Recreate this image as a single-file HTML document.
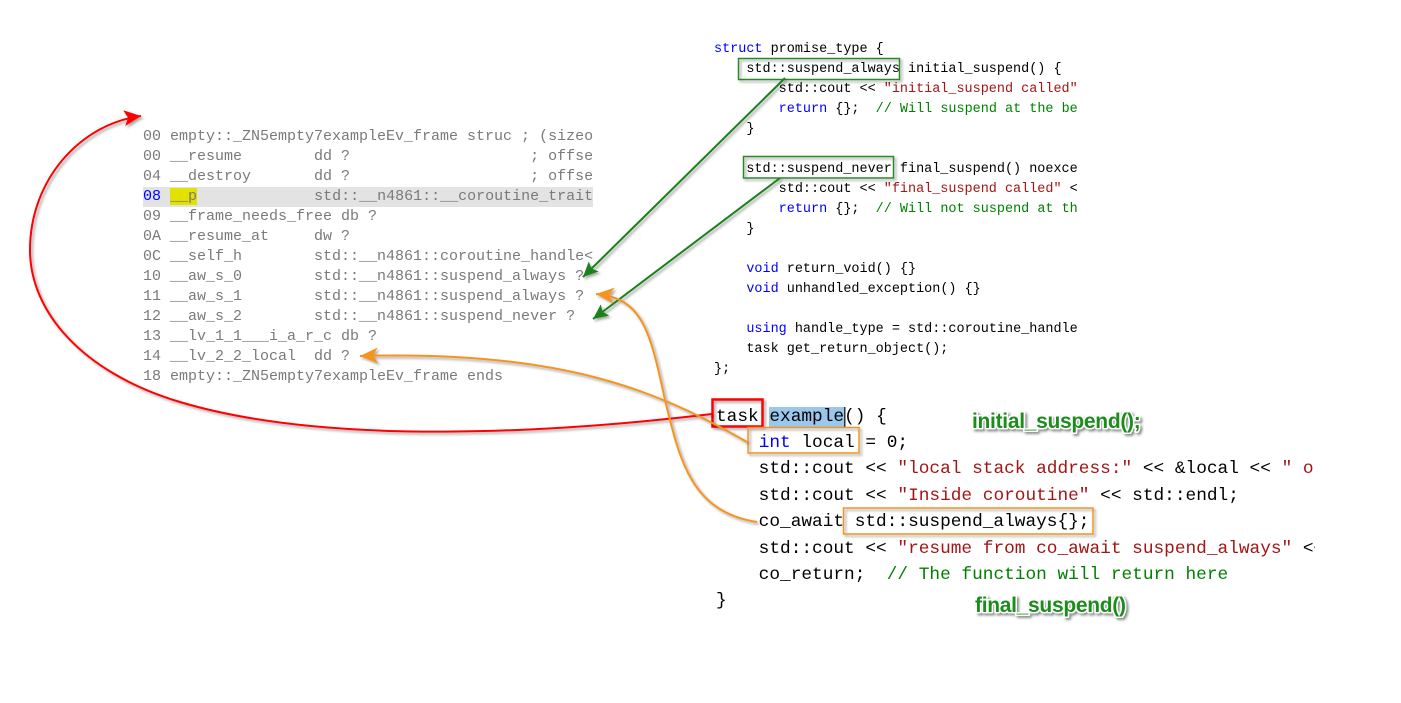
<!DOCTYPE html>
<html>
<head>
<meta charset="utf-8">
<style>
  html,body{margin:0;padding:0;background:#fff;}
  body{width:1401px;height:703px;position:relative;overflow:hidden;}
  .blk{position:absolute;white-space:pre;overflow:hidden;}
  #left{left:143px;top:127px;width:450px;font-family:"Liberation Mono",monospace;font-size:15px;line-height:20px;color:#7a7a7a;}
  #left .row{height:20px;}
  #left .hl{background:#e3e3e3;}
  #left .num{color:#0000ff;}
  #left .yl{background:#e2e200;}
  #top{left:714px;top:40px;width:364px;font-family:"Liberation Mono",monospace;font-size:13.47px;line-height:20px;color:#000;}
  #bot{left:716px;top:403.5px;width:599px;font-family:"Liberation Mono",monospace;font-size:17.8px;line-height:26.4px;color:#000;}
  .k{color:#0000ff;}
  .s{color:#a31515;}
  .c{color:#008000;}
  .sel{background:#99c8ec;box-shadow:1.5px 0 0 #333;}
  svg{position:absolute;left:0;top:0;}
</style>
</head>
<body>

<div class="blk" id="left"><div class="row">00 empty::_ZN5empty7exampleEv_frame struc ; (sizeof=0x18)</div><div class="row">00 __resume        dd ?                    ; offset</div><div class="row">04 __destroy       dd ?                    ; offset</div><div class="row hl"><span class="num">08</span> <span class="yl">__p</span>             std::__n4861::__coroutine_traits_impl</div><div class="row">09 __frame_needs_free db ?</div><div class="row">0A __resume_at     dw ?</div><div class="row">0C __self_h        std::__n4861::coroutine_handle&lt;</div><div class="row">10 __aw_s_0        std::__n4861::suspend_always ?</div><div class="row">11 __aw_s_1        std::__n4861::suspend_always ?</div><div class="row">12 __aw_s_2        std::__n4861::suspend_never ?</div><div class="row">13 __lv_1_1___i_a_r_c db ?</div><div class="row">14 __lv_2_2_local  dd ?</div><div class="row">18 empty::_ZN5empty7exampleEv_frame ends</div></div>

<div class="blk" id="top"><span class="k">struct</span> promise_type {
    std::suspend_always initial_suspend() {
        std::cout &lt;&lt; <span class="s">"initial_suspend called"</span> &lt;&lt; std::endl;
        <span class="k">return</span> {};  <span class="c">// Will suspend at the beginning</span>
    }

    std::suspend_never final_suspend() noexcept {
        std::cout &lt;&lt; <span class="s">"final_suspend called"</span> &lt;&lt; std::endl;
        <span class="k">return</span> {};  <span class="c">// Will not suspend at the end</span>
    }

    <span class="k">void</span> return_void() {}
    <span class="k">void</span> unhandled_exception() {}

    <span class="k">using</span> handle_type = std::coroutine_handle&lt;promise_type&gt;;
    task get_return_object();
};</div>

<div class="blk" id="bot">task <span class="sel">example</span>() {
    <span class="k">int</span> local = 0;
    std::cout &lt;&lt; <span class="s">"local stack address:"</span> &lt;&lt; &amp;local &lt;&lt; <span class="s">" on stack"</span> &lt;&lt; std::endl;
    std::cout &lt;&lt; <span class="s">"Inside coroutine"</span> &lt;&lt; std::endl;
    co_await std::suspend_always{};
    std::cout &lt;&lt; <span class="s">"resume from co_await suspend_always"</span> &lt;&lt; std::endl;
    co_return;  <span class="c">// The function will return here</span>
}</div>

<svg width="1401" height="703" viewBox="0 0 1401 703" xmlns="http://www.w3.org/2000/svg">
  <defs>
    <filter id="sh" x="-20%" y="-20%" width="140%" height="140%">
      <feDropShadow dx="2" dy="2" stdDeviation="1.4" flood-color="#000" flood-opacity="0.35"/>
    </filter>
    <filter id="sh2" x="-20%" y="-40%" width="140%" height="180%">
      <feDropShadow dx="2" dy="2" stdDeviation="1.2" flood-color="#000" flood-opacity="0.45"/>
    </filter>
    <marker id="mr" markerUnits="userSpaceOnUse" markerWidth="24" markerHeight="20" refX="18" refY="8" orient="auto">
      <path d="M18,8 L1,0 L5,8 L1,16 Z" fill="#ff0000"/>
    </marker>
    <marker id="mo" markerUnits="userSpaceOnUse" markerWidth="24" markerHeight="20" refX="18" refY="8" orient="auto">
      <path d="M18,8 L0,0 L5,8 L0,16 Z" fill="#f7931e"/>
    </marker>
    <marker id="mg" markerUnits="userSpaceOnUse" markerWidth="20" markerHeight="16" refX="15" refY="7" orient="auto">
      <path d="M15,7 L0,0 L3,7 L0,14 Z" fill="#1a801a"/>
    </marker>
  </defs>

  <g filter="url(#sh)" fill="none">
    <rect x="738.5" y="58.5" width="161" height="21" stroke="#2a8a2a" stroke-width="1.5"/>
    <rect x="743.5" y="156.5" width="150" height="21.5" stroke="#2a8a2a" stroke-width="1.5"/>
    <rect x="712.5" y="399.5" width="50" height="27" stroke="#ff0000" stroke-width="2.5"/>
    <rect x="748" y="427.5" width="111" height="25.5" stroke="#f7931e" stroke-width="1.5"/>
    <rect x="843.5" y="508" width="249.5" height="26" stroke="#f7931e" stroke-width="1.5"/>
  </g>

  <g filter="url(#sh)" fill="none">
    <path d="M785,78 L583,277" stroke="#1a801a" stroke-width="2" marker-end="url(#mg)"/>
    <path d="M780,178 L593,319" stroke="#1a801a" stroke-width="2" marker-end="url(#mg)"/>
    <path d="M712,414 C560,432 330,447 180,402 C80,372 30,310 30,250 C30,180 80,124 141,116" stroke="#ff0000" stroke-width="2" marker-end="url(#mr)"/>
    <path d="M747,442 C660,392 565,350 360,356" stroke="#f7931e" stroke-width="2" marker-end="url(#mo)"/>
    <path d="M757,522 C692,512 680,462 665,400 C650,330 642,298 596,294" stroke="#f7931e" stroke-width="2" marker-end="url(#mo)"/>
  </g>

  <g filter="url(#sh2)" font-family="Liberation Sans, Arial, sans-serif" font-weight="bold" font-size="21" letter-spacing="-0.3">
    <text x="972" y="428" fill="#1a8c1a" stroke="#ffffff" stroke-width="3" paint-order="stroke" stroke-linejoin="round">initial_suspend();</text>
    <text x="975" y="612" fill="#1a8c1a" stroke="#ffffff" stroke-width="3" paint-order="stroke" stroke-linejoin="round">final_suspend()</text>
  </g>
</svg>

</body>
</html>
